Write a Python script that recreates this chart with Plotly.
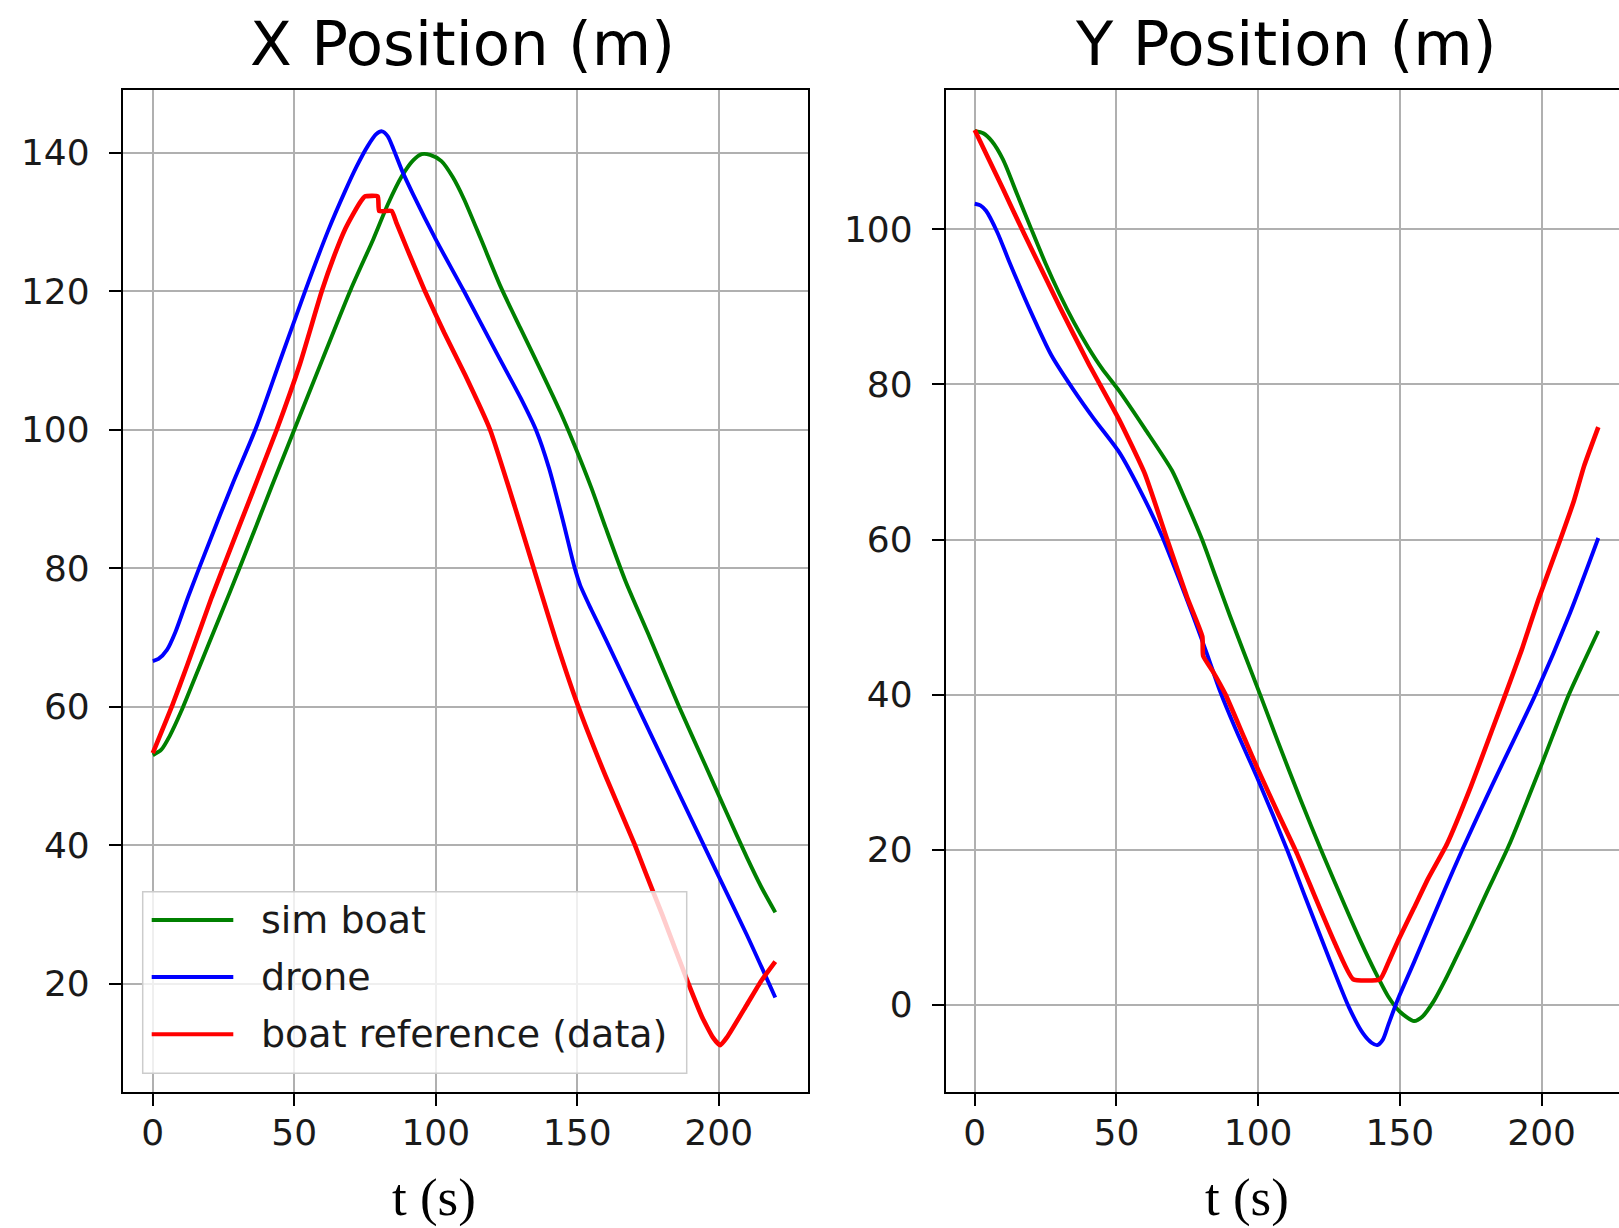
import plotly.graph_objects as go

# ---------------- X position (left panel) ----------------
t_x_sim = [0, 3, 6, 10, 15, 20, 27, 35, 42, 50, 60, 70, 78, 83, 88, 92, 95, 98, 102, 106,
           110, 116, 123, 130, 137, 144, 149, 155, 160, 167, 175, 186, 195, 203, 210, 215, 220]
x_sim_boat = [53.0, 53.8, 55.8, 59.3, 64.3, 69.3, 76.3, 84.5, 91.8, 100.0, 110.2, 120.3, 127.6,
              132.5, 136.6, 138.9, 139.8, 139.7, 138.8, 136.5, 133.3, 127.5, 120.6, 114.6, 108.7,
              102.6, 97.8, 91.6, 85.9, 78.2, 70.6, 60.0, 51.8, 44.5, 38.2, 34.0, 30.3]

t_x_drone = [0, 2, 5, 8, 12.6, 20, 28, 36.7, 45, 53.8, 62, 68, 72, 76, 79, 81, 83, 85, 88, 92,
             100, 110, 122, 130, 135.6, 140, 145, 149, 151, 155, 160, 171.6, 185, 200, 210, 220]
x_drone = [66.6, 66.9, 68.2, 70.8, 76.0, 83.8, 92.0, 100.5, 110.0, 120.0, 128.8, 134.5, 138.0,
           141.0, 142.7, 143.1, 142.4, 140.6, 137.5, 134.0, 127.5, 120.0, 110.7, 104.6, 99.8,
           94.5, 86.8, 80.2, 77.6, 74.0, 69.8, 59.8, 48.3, 35.5, 27.0, 18.0]

t_x_ref = [0, 3, 6.7, 12, 20.8, 30, 43.8, 52, 59.7, 64, 68, 71, 73.5, 75, 79.5, 80, 84.4, 86, 90,
           96.2, 103, 110.4, 119.2, 128, 137, 143, 150.4, 160, 170.4, 174, 180, 189.3, 194, 198,
           200.5, 203, 210, 215, 220]
x_boat_ref = [53.3, 56.3, 60.0, 65.8, 75.8, 85.5, 100.0, 109.5, 120.0, 125.0, 129.0, 131.3, 133.0,
              133.7, 133.7, 131.6, 131.6, 130.0, 126.0, 120.0, 114.0, 107.9, 100.0, 88.8, 76.8,
              68.9, 60.0, 50.0, 40.0, 36.2, 30.0, 20.0, 15.3, 12.2, 11.1, 12.3, 17.0, 20.4, 23.2]

# ---------------- Y position (right panel) ----------------
t_y_sim = [0, 3, 6, 10, 15, 20, 25, 30, 35, 40, 45, 50.9, 60, 69.6, 74.3, 80.2, 85, 90, 95, 100.8,
           107, 115, 122.6, 130.8, 136, 141.2, 146, 150, 155, 158, 162, 166, 170, 175, 180.8,
           188.4, 200, 209.6, 215, 220]
y_sim_boat = [112.7, 112.4, 111.4, 109.0, 104.5, 100.0, 95.6, 91.6, 88.0, 84.8, 82.0, 79.2, 74.3,
              68.9, 65.1, 60.0, 55.2, 50.2, 45.4, 39.9, 33.9, 26.4, 19.6, 12.6, 8.3, 4.3, 1.0,
              -0.9, -2.1, -1.5, 0.5, 3.2, 6.2, 10.0, 14.6, 20.5, 31.0, 40.0, 44.3, 48.2]

t_y_drone = [0, 2, 4, 8, 12, 20, 27, 34.5, 42, 50.9, 58, 66, 72, 77, 82, 86.5, 92, 100, 110.2,
             116.7, 125, 132, 137, 140, 142, 144, 146, 149.4, 155, 165.9, 172, 182.4, 190, 197.8,
             210, 220]
y_drone = [103.3, 103.1, 102.4, 99.6, 96.0, 89.2, 83.8, 79.5, 75.6, 71.3, 66.6, 60.5, 55.0, 50.2,
           45.2, 40.5, 35.6, 29.0, 20.0, 13.8, 6.0, -0.3, -3.7, -4.9, -5.2, -4.5, -2.5, 0.8, 5.5,
           14.9, 20.0, 28.2, 34.0, 40.0, 50.5, 60.2]

t_y_ref = [0, 5, 10, 15, 20, 30, 40, 50.9, 60, 67.9, 75, 80.3, 80.6, 84, 88.5, 95, 100, 107, 113.7,
           120.2, 127, 133.5, 143, 146, 149.4, 155, 160, 166.7, 175, 182.4, 187.2, 193, 198.9,
           206.6, 211.4, 215, 220]
y_boat_ref = [112.8, 109.0, 105.2, 101.3, 97.5, 90.0, 82.8, 75.5, 68.5, 60.0, 52.5, 47.5, 45.0,
              43.0, 40.0, 34.5, 30.3, 24.7, 19.5, 13.8, 8.0, 3.3, 3.3, 5.5, 8.3, 12.5, 16.3, 20.8,
              28.1, 35.3, 40.0, 45.8, 52.3, 60.0, 65.0, 69.5, 74.5]

x_ticks = [0, 50, 100, 150, 200]
left_y_ticks = [20, 40, 60, 80, 100, 120, 140]
right_y_ticks = [0, 20, 40, 60, 80, 100]

series_names = ["sim boat", "drone", "boat reference (data)"]
series_colors = ["#008000", "#0000ff", "#ff0000"]
titles = ["X Position (m)", "Y Position (m)"]
xlabel = "t (s)"

W, H = 1619, 1228

def px(x):
    return x / W

def py(y):
    return 1 - y / H

fig = go.Figure()
widths = [3.9, 3.9, 4.6]
smooth = [0.7, 0.7, 0.45]
left_data = [(t_x_sim, x_sim_boat), (t_x_drone, x_drone), (t_x_ref, x_boat_ref)]
right_data = [(t_y_sim, y_sim_boat), (t_y_drone, y_drone), (t_y_ref, y_boat_ref)]
for axes, data in (("x", left_data), ("x2", right_data)):
    for i, (tt, vv) in enumerate(data):
        fig.add_trace(go.Scatter(x=tt, y=vv, mode="lines", name=series_names[i],
                                 xaxis=axes, yaxis=axes.replace("x", "y"),
                                 line=dict(color=series_colors[i], width=widths[i],
                                           shape="spline", smoothing=smooth[i]),
                                 showlegend=False))

tick_font = dict(family="DejaVu Sans", size=36, color="#1a1a1a")
common_axis = dict(showline=True, linecolor="black", linewidth=2, ticks="outside", ticklen=12,
                   tickwidth=1.6, tickcolor="black", showgrid=True, gridcolor="#b0b0b0",
                   gridwidth=1.8, zeroline=False, tickfont=tick_font)

y_dom = [py(1092.4), py(89.8)]
fig.update_layout(
    width=W, height=H, margin=dict(l=0, r=0, t=0, b=0),
    paper_bgcolor="white", plot_bgcolor="white", showlegend=False,
    xaxis=dict(domain=[px(122.9), px(808.4)], range=[-10.57, 231.7], anchor="y",
               tickvals=x_ticks, mirror=True, ticklabelstandoff=-5, **common_axis),
    yaxis=dict(domain=y_dom, range=[4.3, 149.1], anchor="x", tickvals=left_y_ticks,
               mirror=True, ticklabelstandoff=12, **common_axis),
    xaxis2=dict(domain=[px(945.8), 1.0], range=[-10.2, 227.3], anchor="y2",
                tickvals=x_ticks, mirror=True, ticklabelstandoff=-5, **common_axis),
    yaxis2=dict(domain=y_dom, range=[-11.3, 118.0], anchor="x2", tickvals=right_y_ticks,
                mirror=False, ticklabelstandoff=12, **common_axis),
)

# Titles and x labels
annotations = [
    dict(text=titles[0], x=px(462), y=py(43), xref="paper", yref="paper", showarrow=False,
         xanchor="center", yanchor="middle", font=dict(family="DejaVu Sans", size=61, color="black")),
    dict(text=titles[1], x=px(1285.5), y=py(43), xref="paper", yref="paper", showarrow=False,
         xanchor="center", yanchor="middle", font=dict(family="DejaVu Sans", size=61, color="black")),
    dict(text=xlabel, x=px(433.7), y=py(1197), xref="paper", yref="paper", showarrow=False,
         xanchor="center", yanchor="middle", font=dict(family="Liberation Serif", size=53, color="black")),
    dict(text=xlabel, x=px(1247.3), y=py(1197), xref="paper", yref="paper", showarrow=False,
         xanchor="center", yanchor="middle", font=dict(family="Liberation Serif", size=53, color="black")),
]

# Legend (matplotlib style box)
shapes = [dict(type="rect", xref="paper", yref="paper", x0=px(142.7), x1=px(686.7),
               y0=py(1073.3), y1=py(891.7), fillcolor="rgba(255,255,255,0.8)",
               line=dict(color="#cccccc", width=1.5), layer="above")]
leg_y = [920.0, 977.0, 1034.3]
for i in range(3):
    shapes.append(dict(type="line", xref="paper", yref="paper", x0=px(151.7), x1=px(233.3),
                       y0=py(leg_y[i]), y1=py(leg_y[i]),
                       line=dict(color=series_colors[i], width=4), layer="above"))
    annotations.append(dict(text=series_names[i], x=px(259), y=py(leg_y[i]), xref="paper",
                            yref="paper", showarrow=False, xanchor="left", yanchor="middle",
                            font=dict(family="DejaVu Sans", size=38, color="#1a1a1a")))

fig.update_layout(annotations=annotations, shapes=shapes)

fig.write_html("out.html", config={"displayModeBar": False},
               post_script="document.body.style.margin='0';document.body.style.overflow='hidden';")
